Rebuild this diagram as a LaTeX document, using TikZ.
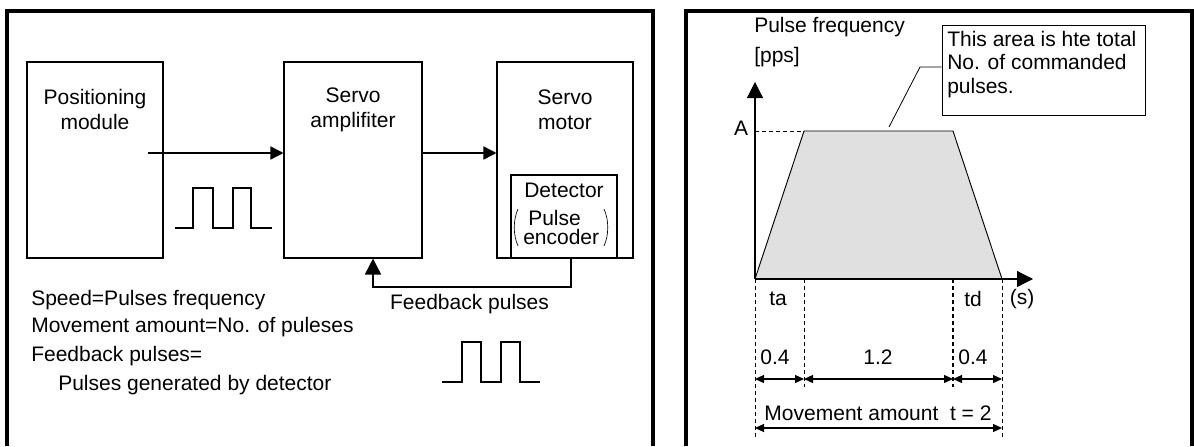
\documentclass[tikz,border=0pt]{standalone}
\usepackage{fontspec}
\setmainfont{Liberation Sans}
\usetikzlibrary{arrows.meta}

\begin{document}
\begin{tikzpicture}[x=0.75pt,y=0.75pt,yscale=-1,xscale=1,
    every node/.style={font=\fontsize{15.75}{18.75}\selectfont, inner sep=0.75pt},
    blockbox/.style={draw, line width=0.8pt, minimum width=#1*0.75pt, minimum height=147pt, inner sep=0pt},
    panel/.style={line width=2.4pt},
    sig/.style={line width=1.2pt, -{Triangle[length=9.75pt,width=9.75pt]}},
    pulse/.style={line width=0.9pt},
    guide/.style={line width=0.6pt, dash pattern=on 3pt off 2.25pt},
    dimarr/.style={line width=0.9pt, {Triangle[length=6.75pt,width=6pt]}-{Triangle[length=6.75pt,width=6pt]}}]
    \useasboundingbox (0,0) rectangle (1194,446);

    % Panels
    \draw [panel] (7,446) -- (7,11) -- (653,11) -- (653,446);
    \draw [panel] (686,446) -- (686,11) -- (1192,11) -- (1192,446);

    % Blocks
    \node [blockbox=136] (pm) at (95,160) {};
    \node [blockbox=138] (amp) at (353,160) {};
    \node [blockbox=136] (motor) at (565,160) {};
    \node [draw, line width=0.8pt, minimum width=79.5pt, minimum height=62.25pt, inner sep=0pt] (det) at (564,216.5) {};

    % Block texts
    \node [align=center] (pm text) at (95,109.5) {Positioning\\module};
    \node [align=center] (amp text) at (353,109.5) {Servo\\amplifiter};
    \node [align=center] (motor text) at (565,109.5) {Servo\\motor};
    \node (det text) at (564,190) {Detector};
    \node [anchor=west, inner sep=0pt] (enc top) at (528,218) {Pulse};
    \node [anchor=west, inner sep=0pt] (enc bot) at (523,237) {encoder};
    \draw [line width=0.5pt] (518,209) .. controls (513,220) and (513,235) .. (518,246);
    \draw [line width=0.5pt] (604,209) .. controls (609,220) and (609,235) .. (604,246);

    % Command pulses
    \coordinate (pm out) at (148,153);
    \draw [sig] (pm out) -- (pm out -| amp.west);
    \draw [sig] (pm out -| amp.east) -- (pm out -| motor.west);
    \draw [pulse] (175,228) -- (193,228) -- (193,188) -- (213,188) -- (213,228) -- (233,228) -- (233,188) -- (251,188) -- (251,228) -- (272,228);

    % Feedback
    \coordinate (fb r) at (571,287);
    \coordinate (fb l) at (373,287);
    \draw [sig, -{Triangle[length=12pt,width=12pt]}] (fb r |- det.south) -- (fb r) -- (fb l) -- (fb l |- amp.south);
    \node (fb text) at (469.5,304) {Feedback pulses};
    \draw [pulse] (442,382) -- (462,382) -- (462,342) -- (481,342) -- (481,382) -- (501,382) -- (501,342) -- (520,342) -- (520,382) -- (540,382);

    % Notes
    \node [anchor=west] (speed) at (30,300) {Speed=Pulses frequency};
    \node [anchor=west] (move) at (30,327) {Movement amount=No. of puleses};
    \node [anchor=west] (fb eq) at (30,356) {Feedback pulses=};
    \node [anchor=west] (gen) at (57,385) {Pulses generated by detector};

    % Speed curve
    \coordinate (O) at (755,279);
    \coordinate (ytop) at (755,82);
    \coordinate (xend) at (1033,279);
    \coordinate (pA) at (804,131);
    \coordinate (pB) at (953,131);
    \coordinate (pC) at (1002,279);
    \fill [black!12] (O) -- (pA) -- (pB) -- (pC) -- cycle;
    \draw [line width=0.7pt] (O) -- (pA) -- (pB) -- (pC);
    \draw [line width=0.6pt, dash pattern=on 3pt off 2.25pt] (O |- pA) -- (pA);
    \draw [line width=0.9pt, -{Triangle[length=12pt,width=12pt]}] (O) -- (ytop);
    \draw [line width=0.9pt, -{Triangle[length=12pt,width=12pt]}] (O) -- (xend);
    \node (A) at (741,128) {A};
    \node [anchor=west] (y lab) at (753,27) {Pulse frequency};
    \node [anchor=west] (y unit) at (753,57) {[pps]};

    % Callout
    \node [draw, line width=0.7pt, minimum width=152.25pt, minimum height=67.5pt, inner sep=0pt] (note box) at (1043.5,70) {};
    \node [anchor=north west, align=left, font=\fontsize{15.75}{17.6}\selectfont] (note) at (946,30) {This area is hte total\\No. of commanded\\pulses.};
    \coordinate (lead) at (920,67);
    \coordinate (lead end) at (889,127);
    \draw [line width=0.6pt] (note box.west |- lead) -- (lead) -- (lead end);

    % Times
    \draw [guide] (O) -- ++(0,158);
    \draw [guide] (pA |- O) -- ++(0,108);
    \draw [guide, line width=1.1pt] (pB |- O) -- ++(0,108);
    \draw [guide] (pC) -- ++(0,158);
    \node (ta) at (778,299) {ta};
    \node (td) at (973,299) {td};
    \node (sec) at (1022,299) {(s)};
    \node (acc) at (775,357) {0.4};
    \node (const) at (878,357) {1.2};
    \node (dec) at (973,357) {0.4};
    \coordinate (d1) at (755,379);
    \coordinate (d2) at (755,428);
    \draw [dimarr] (O |- d1) -- (pA |- d1);
    \draw [dimarr] (pA |- d1) -- (pB |- d1);
    \draw [dimarr] (pB |- d1) -- (pC |- d1);
    \node (total) at (878,413) {Movement amount\ \ t = 2};
    \draw [dimarr] (O |- d2) -- (pC |- d2);
\end{tikzpicture}
\end{document}
